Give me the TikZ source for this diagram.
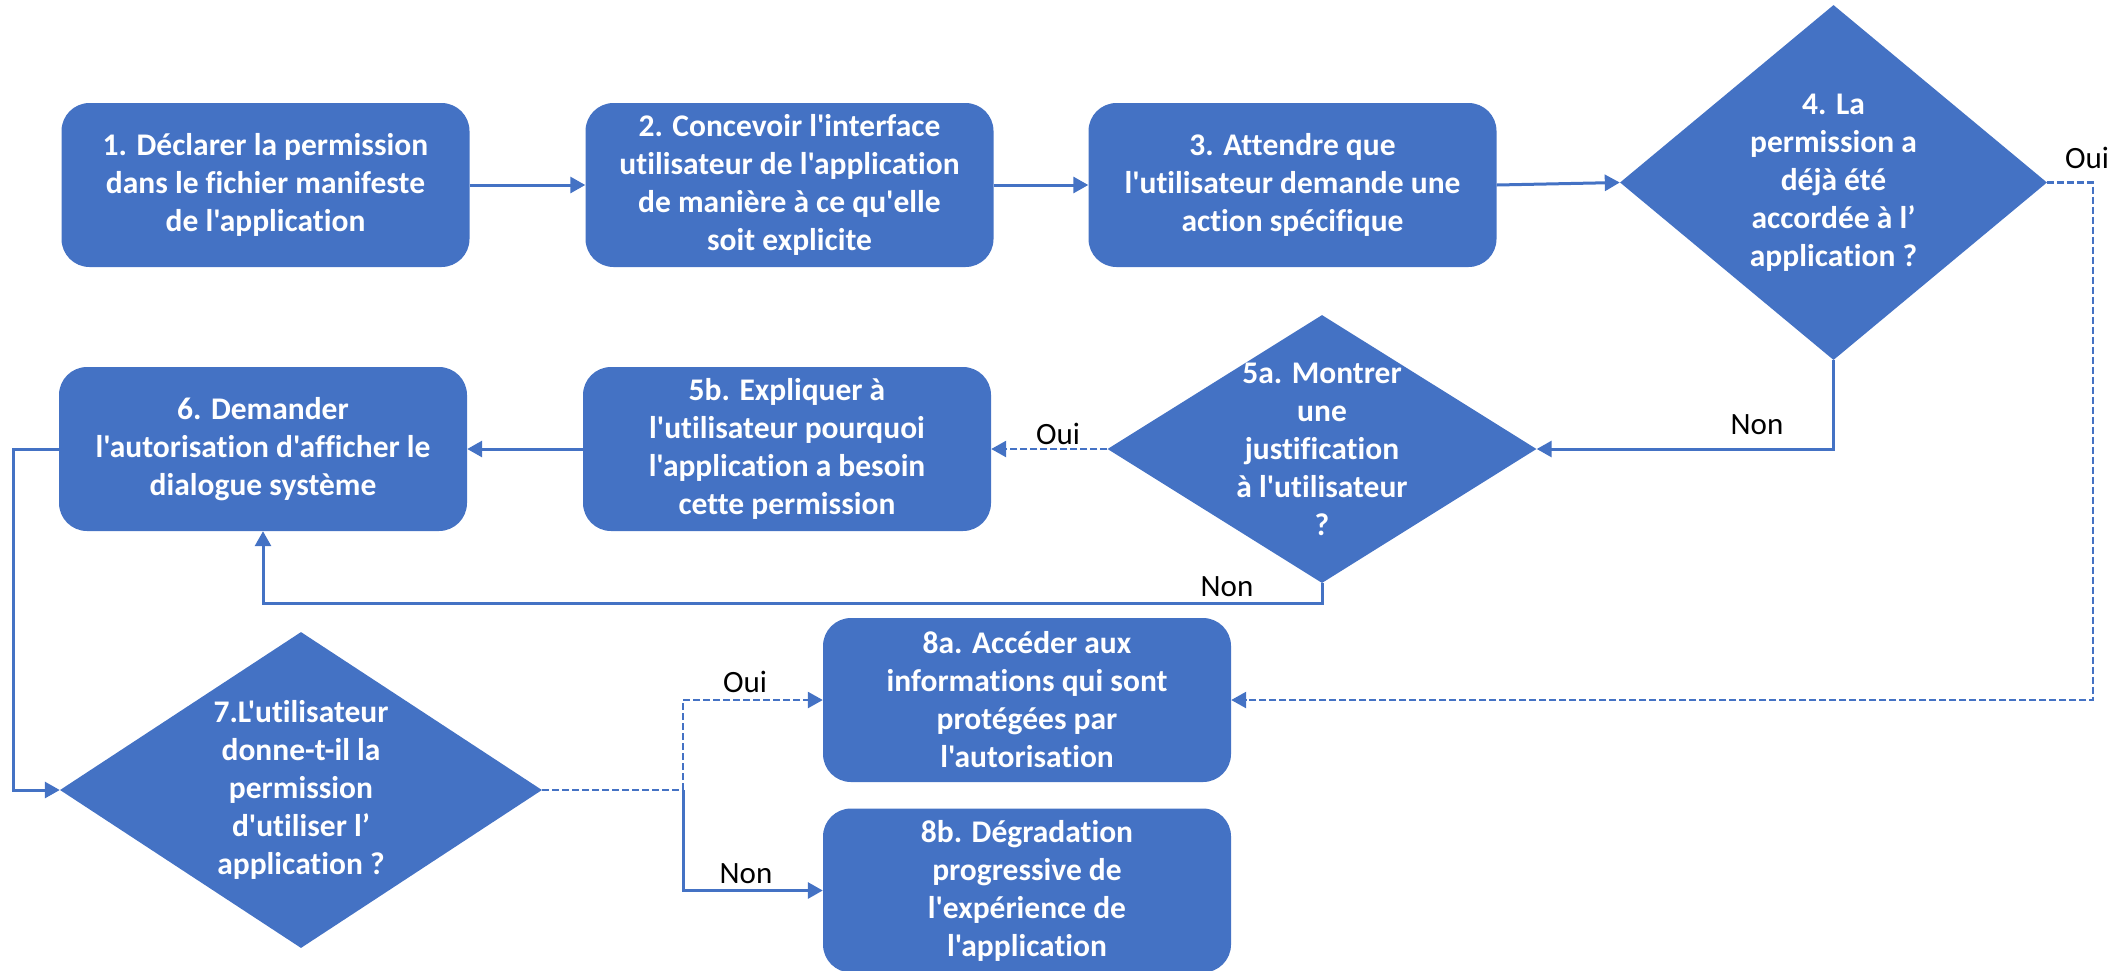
\documentclass[tikz,border=0pt]{standalone}
\usepackage{fontspec}
\setmainfont{Carlito}[Ligatures={TeXOff,NoCommon}]
\usetikzlibrary{shapes.geometric,arrows.meta}
\definecolor{bl}{HTML}{4472C4}
\tikzset{
  box/.style={rectangle, rounded corners=28pt, fill=bl, minimum width=408pt, minimum height=164pt, text=white, align=center, font=\fontsize{31.5}{38}\selectfont\bfseries, inner sep=0pt},
  dia/.style={diamond, fill=bl, inner sep=0pt},
  dtext/.style={text=white, align=center, font=\fontsize{31.5}{38}\selectfont\bfseries, inner sep=0pt},
  conn/.style={draw=bl, line width=3pt, -{Triangle[length=15pt,width=16pt]}},
  dconn/.style={conn, line width=2.6pt, dash pattern=on 7pt off 3pt},
  lab/.style={font=\fontsize{31}{36}\selectfont, text=black, inner sep=0pt}
}
\begin{document}
\begin{tikzpicture}[x=1pt,y=-1pt]
\useasboundingbox (0,0) rectangle (2125,970);
\node[box] (b1) at (265.5,185) {1. Déclarer la permission\\dans le fichier manifeste\\de l'application};
\node[box] (b2) at (789.5,185) {2. Concevoir l'interface\\utilisateur de l'application\\de manière à ce qu'elle\\soit explicite};
\node[box] (b3) at (1292.5,185) {3. Attendre que\\l'utilisateur demande une\\action spécifique};
\node[dia, minimum width=427pt, minimum height=355pt, label={[dtext]center:{4. La\\permission a\\déjà été\\accordée à l’\\application ?}}] (d4) at (1833.5,182.5) {};
\node[dia, minimum width=429pt, minimum height=268pt, label={[dtext]center:{5a. Montrer\\une\\justification\\à l'utilisateur\\?}}] (d5a) at (1322,449) {};
\node[box] (b5b) at (787,449) {5b. Expliquer à\\l'utilisateur pourquoi\\l'application a besoin\\cette permission};
\node[box] (b6) at (263,449) {6. Demander\\l'autorisation d'afficher le\\dialogue système};
\node[dia, minimum width=482pt, minimum height=316pt, label={[dtext]center:{7.L'utilisateur\\donne-t-il la\\permission\\d'utiliser l’\\application ?}}] (d7) at (301,790) {};
\node[box] (b8a) at (1027,700) {8a. Accéder aux\\informations qui sont\\protégées par\\l'autorisation};
\node[box] (b8b) at (1027,890.5) {8b. Dégradation\\progressive de\\l'expérience de\\l'application};
% coordinates
\coordinate (nb) at (1322,603);
\coordinate (lx) at (13,449);
\coordinate (j) at (683,790);
\coordinate (r1) at (2093,182.5);
\coordinate (r2) at (2093,700);
% connectors
\draw[conn] (b1) -- (b2);
\draw[conn] (b2) -- (b3);
\draw[conn] (b3.east) -- (d4.west);
\draw[conn] (d4.south) |- (d5a.east);
\draw[dconn] (d5a.west) -- (b5b.east);
\draw[conn] (b5b) -- (b6);
\draw[conn] (d5a.south) -- (nb) -| (b6.south);
\draw[conn] (b6.west) -- (lx) |- (d7.west);
\draw[dconn,-] (d7.east) -- (j);
\draw[dconn] (j) |- (b8a.west);
\draw[conn] (j) |- (b8b.west);
\draw[dconn] (d4.east) -- (r1) -- (r2) -- (b8a.east);
% labels
\node[lab] (l1) at (2087,158) {Oui};
\node[lab] (l2) at (1757,425) {Non};
\node[lab] (l3) at (1058,434) {Oui};
\node[lab] (l4) at (1227,587) {Non};
\node[lab] (l5) at (745,682) {Oui};
\node[lab] (l6) at (746,874) {Non};
\end{tikzpicture}
\end{document}
